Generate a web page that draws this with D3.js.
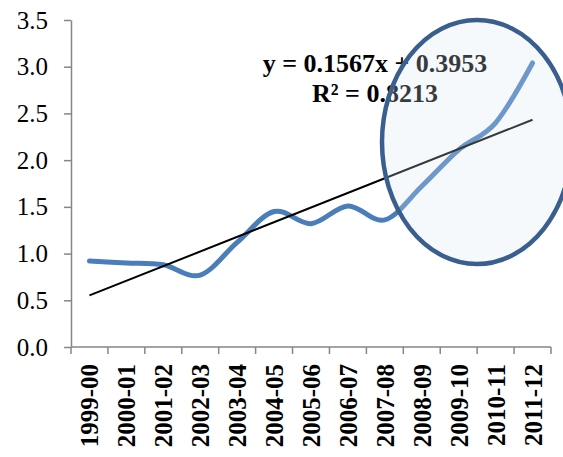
<!DOCTYPE html>
<html><head><meta charset="utf-8">
<script src="https://cdn.jsdelivr.net/npm/d3@7"></script>
<style>html,body{margin:0;padding:0;background:#fff;}svg{display:block;}</style>
</head><body>
<script>
const categories = ["1999-00","2000-01","2001-02","2002-03","2003-04","2004-05","2005-06","2006-07","2007-08","2008-09","2009-10","2010-11","2011-12"];
const values = [0.92,0.90,0.88,0.77,1.12,1.45,1.32,1.51,1.36,1.72,2.11,2.40,3.04];
const yTicks = [0,0.5,1.0,1.5,2.0,2.5,3.0,3.5];
const trendSlope = 0.1567, trendIntercept = 0.3953, rSquared = 0.8213;
const eqLines = ["y = 0.1567x + 0.3953", "R\u00b2 = 0.8213"];

const W = 563, H = 457;
const svg = d3.select("body").append("svg").attr("width", W).attr("height", H);

const x = d3.scaleBand().domain(categories).range([71, 551]).padding(0);
const y = d3.scaleLinear().domain([0, 3.5]).range([347, 20]);
const cx = d => x(d) + x.bandwidth() / 2;

// y axis
const yAxis = d3.axisLeft(y).tickValues(yTicks).tickFormat(d3.format(".1f")).tickSize(7).tickSizeOuter(0);
const gy = svg.append("g").attr("transform", "translate(71,0)").call(yAxis);
gy.select(".domain").attr("stroke", "#868686").attr("stroke-width", 1.5);
gy.selectAll(".tick line").attr("stroke", "#868686").attr("stroke-width", 1.5);
gy.selectAll(".tick text").attr("x", -23).attr("font-family", "'Liberation Serif', 'Times New Roman', serif")
  .attr("font-size", 25).attr("fill", "#000");

// x axis baseline + ticks at band boundaries
const gx = svg.append("g");
gx.append("line").attr("x1", x.range()[0]).attr("x2", x.range()[1]).attr("y1", y(0)).attr("y2", y(0))
  .attr("stroke", "#868686").attr("stroke-width", 1.5);
const bounds = categories.map(c => x(c)).concat([x(categories[categories.length - 1]) + x.bandwidth()]);
gx.selectAll("line.tk").data(bounds).enter().append("line").attr("class", "tk")
  .attr("x1", d => d).attr("x2", d => d).attr("y1", y(0)).attr("y2", y(0) + 7)
  .attr("stroke", "#868686").attr("stroke-width", 1.5);
gx.selectAll("text").data(categories).enter().append("text")
  .attr("transform", d => `translate(${cx(d) + 9},364) rotate(-90)`)
  .attr("text-anchor", "end")
  .attr("font-family", "'Liberation Serif', 'Times New Roman', serif").attr("font-weight", "bold")
  .attr("font-size", 25).attr("fill", "#000").text(d => d);

// data line
const line = d3.line().x((d, i) => cx(categories[i])).y(d => y(d)).curve(d3.curveCatmullRom.alpha(0));
svg.append("path").datum(values).attr("d", line).attr("fill", "none")
  .attr("stroke", "#4a7ebb").attr("stroke-width", 5).attr("stroke-linecap", "round");

// trendline
const trend = [categories[0], categories[categories.length - 1]].map(c => {
  const i = categories.indexOf(c) + 1;
  return [cx(c), y(trendSlope * i + trendIntercept)];
});
svg.append("line").attr("x1", trend[0][0]).attr("y1", trend[0][1]).attr("x2", trend[1][0]).attr("y2", trend[1][1])
  .attr("stroke", "#000").attr("stroke-width", 2);

// equation text
const eq = svg.append("g").attr("font-family", "'Liberation Serif', 'Times New Roman', serif")
  .attr("font-weight", "bold").attr("font-size", 26).attr("text-anchor", "middle").attr("fill", "#000");
eq.selectAll("text").data(eqLines).enter().append("text")
  .attr("x", 375).attr("y", (d, i) => 72 + i * 30).text(d => d);

// highlight ellipse
svg.append("ellipse").attr("cx", 477).attr("cy", 142).attr("rx", 95).attr("ry", 122)
  .attr("fill", "#dce6f2").attr("fill-opacity", 0.25)
  .attr("stroke", "#3a5f8e").attr("stroke-width", 4.5);
</script>
</body></html>
